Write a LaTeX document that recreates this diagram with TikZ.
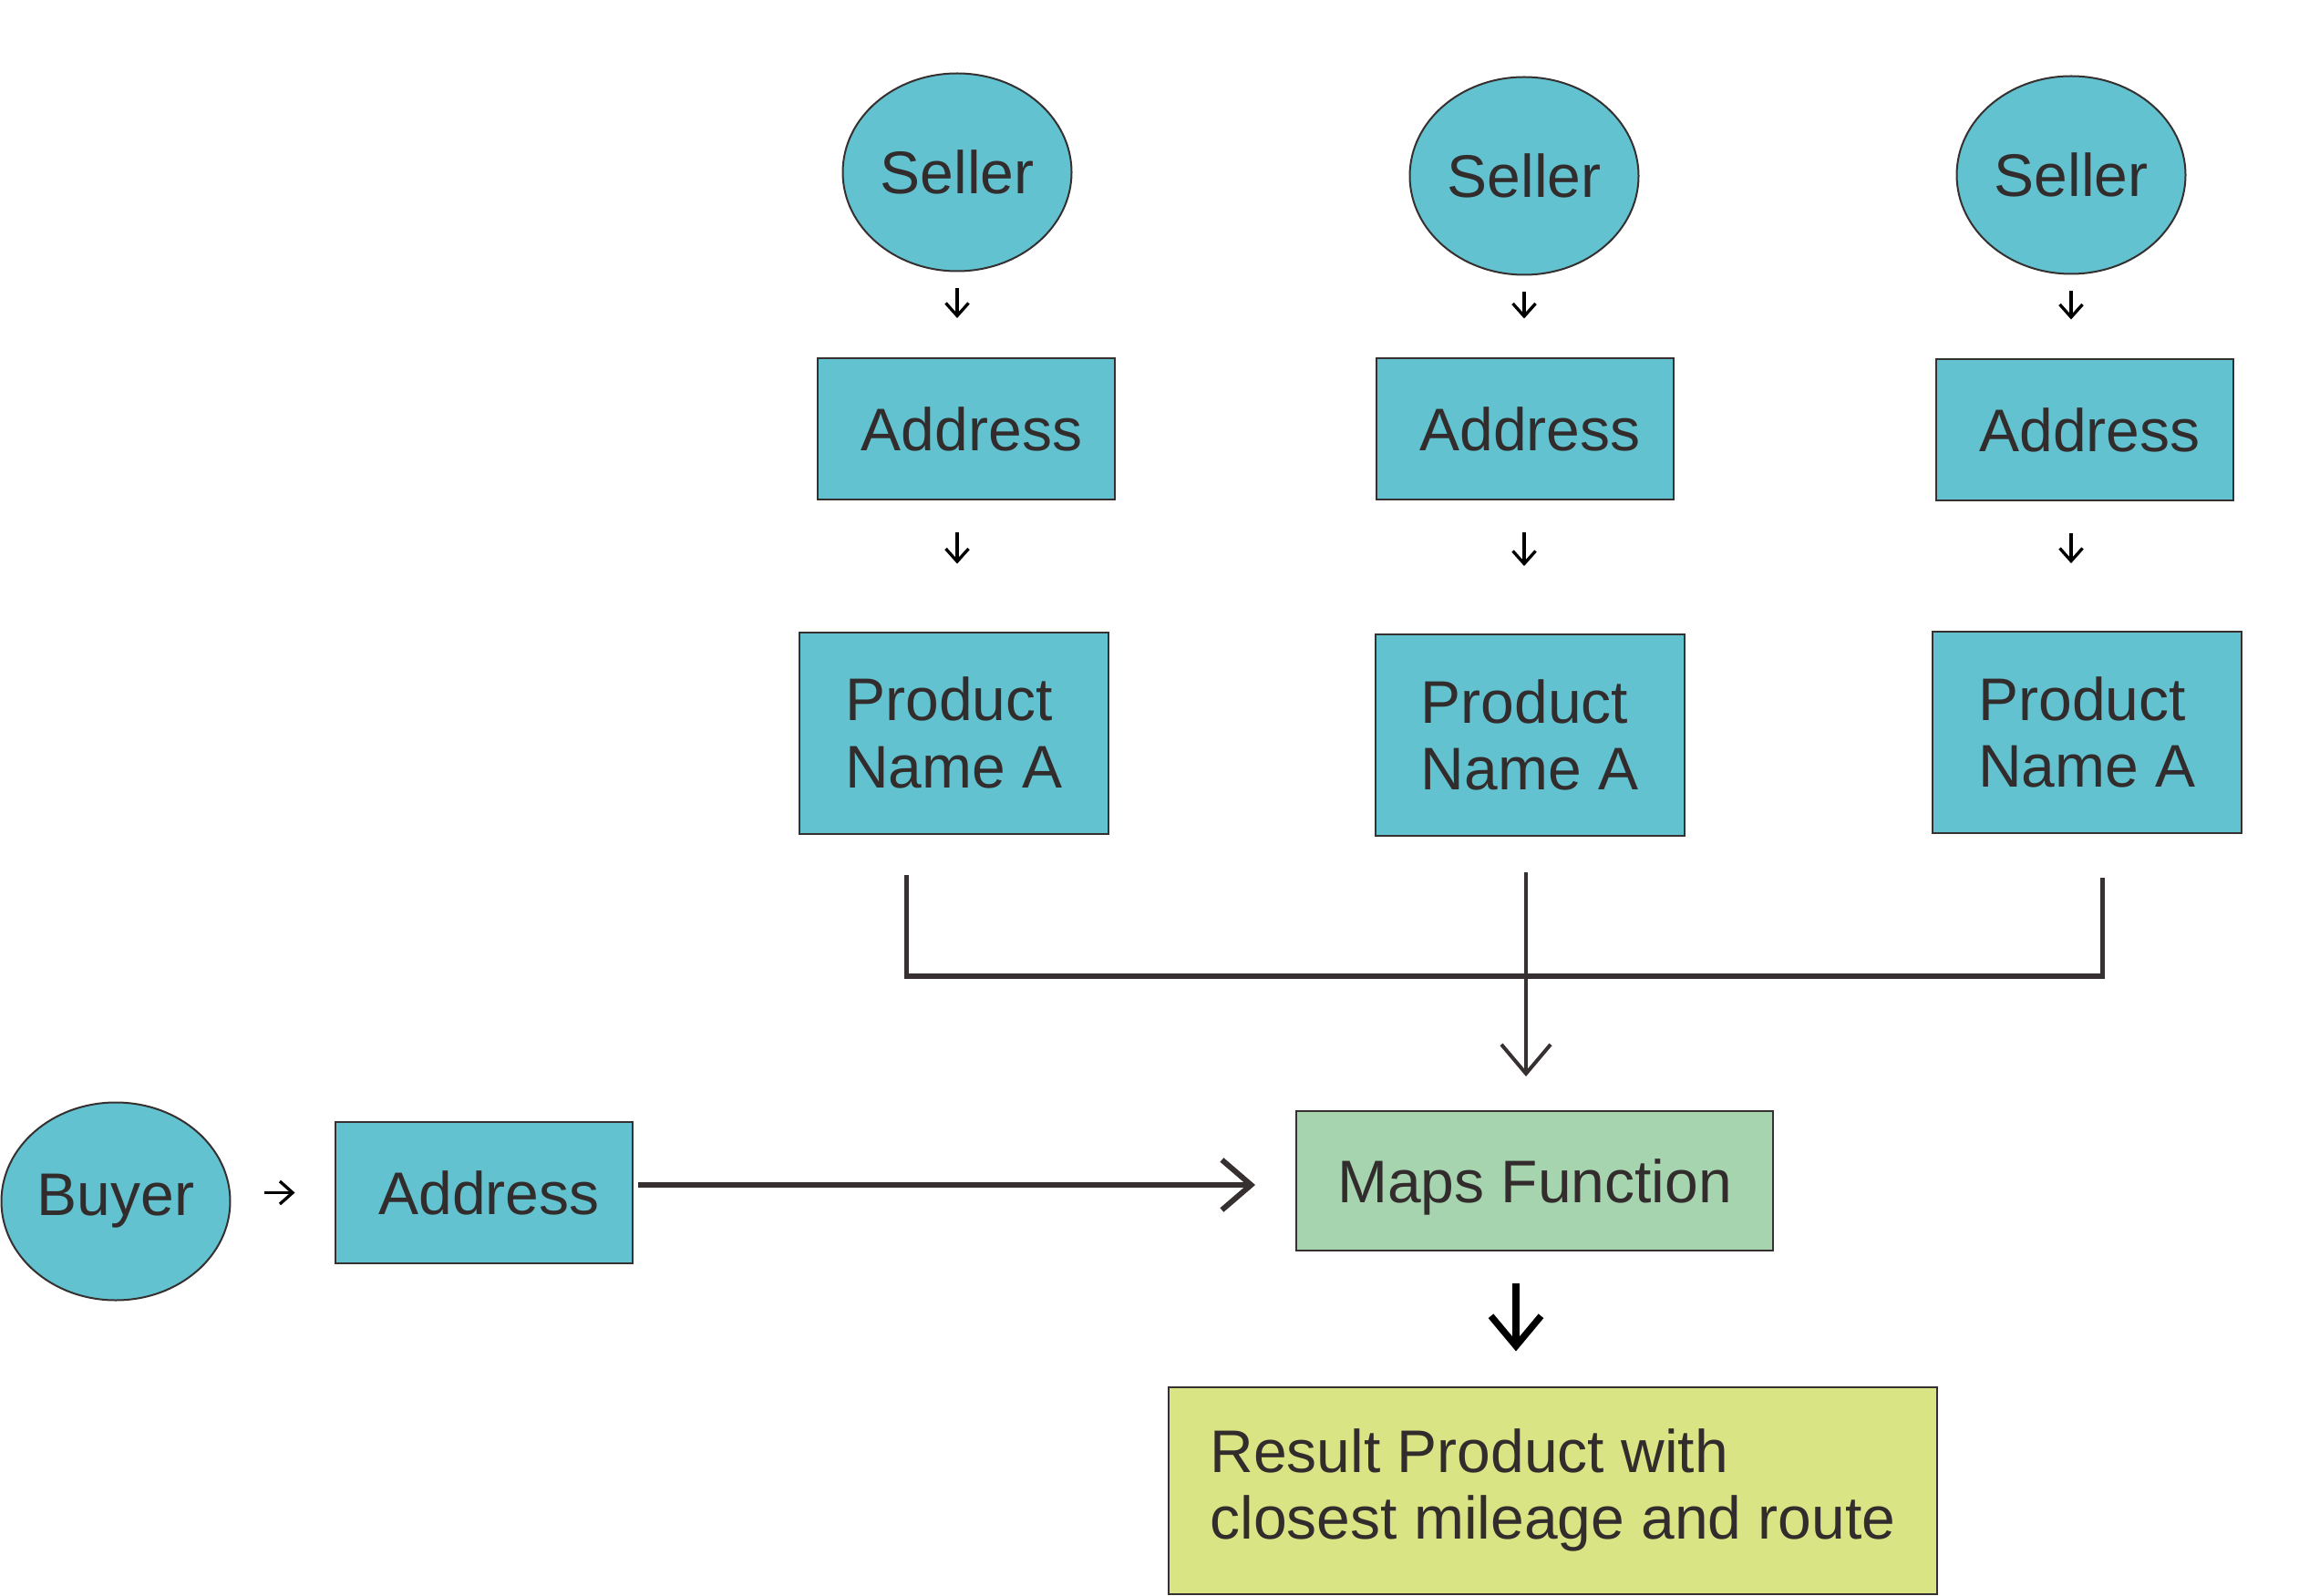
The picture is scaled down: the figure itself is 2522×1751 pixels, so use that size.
\documentclass[tikz,border=0pt]{standalone}
\usepackage{fontspec}
\setmainfont{Liberation Sans}
\usetikzlibrary{shapes.geometric,arrows.meta}
\definecolor{cteal}{HTML}{62C2CF}
\definecolor{cgreen}{HTML}{A6D4AF}
\definecolor{cyellow}{HTML}{D9E584}
\definecolor{ctext}{HTML}{322C2C}
\definecolor{cline}{HTML}{363030}
\begin{document}
\begin{tikzpicture}[x=0.3pt,y=-0.3pt,
  base/.style={draw=cline, line width=0.6pt, text=ctext, font=\fontsize{19.8}{22}\selectfont, inner sep=0pt},
  seller/.style={base, ellipse, fill=cteal, minimum width=75.3pt, minimum height=65.1pt},
  addr/.style={base, rectangle, fill=cteal, minimum width=97.8pt, minimum height=46.5pt},
  prod/.style={base, rectangle, fill=cteal, minimum width=101.7pt, minimum height=66.3pt, align=left},
  mapsbox/.style={base, rectangle, fill=cgreen, minimum width=156.9pt, minimum height=45.9pt, text depth=0pt},
  resbox/.style={base, rectangle, fill=cyellow, minimum width=252.9pt, minimum height=68.1pt, align=left},
  smallarr/.style={draw=black, line width=1.0pt, -{Straight Barb[length=4.2pt,width=7.5pt]}},
  midarr/.style={draw=cline, line width=1.2pt, -{Straight Barb[length=9.6pt,width=16.2pt]}},
  longarr/.style={draw=cline, line width=1.8pt, -{Straight Barb[length=9.6pt,width=16.5pt]}},
  bigarr/.style={draw=black, line width=2.2pt, -{Straight Barb[length=9.9pt,width=16.5pt]}},
  vbar/.style={draw=cline, line width=1.5pt},
  hbar/.style={draw=cline, line width=1.8pt}
]
\useasboundingbox (0,0) rectangle (2522,1751);

% sellers
\node[seller] (s1) at (1050,189) {Seller};
\node[seller] (s2) at (1672,193) {Seller};
\node[seller] (s3) at (2272,192) {Seller};

% addresses
\node[addr] (a1) at (1060,470.5) {\hspace*{3.6pt}Address};
\node[addr] (a2) at (1672.5,471) {\hspace*{3.6pt}Address};
\node[addr] (a3) at (2286.5,472) {\hspace*{3.6pt}Address};

% products
\node[prod] (p1) at (1046.5,804) {Product\\Name A};
\node[prod] (p2) at (1678,806.5) {Product\\Name A};
\node[prod] (p3) at (2289.5,803.5) {Product\\Name A};

% buyer
\node[seller] (buyer) at (127,1318) {Buyer};
\node[addr] (baddr) at (530.5,1308.5) {\hspace*{3.6pt}Address};

% maps and result
\node[mapsbox] (maps) at (1683.5,1295.5) {Maps Function};
\node[resbox] (res) at (1703.5,1635) {Result Product with\\closest mileage and route};

% small arrows
\foreach \i in {1,2,3}{
  \draw[smallarr, shorten <=5.4pt, shorten >=12.9pt] (s\i.south) -- (s\i.south |- a\i.north);
  \draw[smallarr, shorten <=10.5pt, shorten >=22.2pt] (s\i.south |- a\i.south) -- (s\i.south |- p\i.north);
}
\draw[smallarr, shorten <=10.8pt, shorten >=12.9pt] (buyer.east |- baddr.west) -- (baddr.west);

% bracket
\coordinate (bl) at (994,960);
\coordinate (blb) at (994,1074);
\coordinate (br) at (2306,963);
\coordinate (brb) at (2306,1074);
\coordinate (hl) at (991.5,1071);
\coordinate (hr) at (2307,1071);
\draw[vbar] (bl) -- (blb);
\draw[vbar] (br) -- (brb);
\draw[hbar] (hl) -- (hr);

% middle arrow into maps
\coordinate (mtop) at (1674,957);
\draw[midarr, shorten >=11.1pt] (mtop) -- (mtop |- maps.north);

% long arrow from buyer address
\coordinate (la) at (700,1300);
\draw[longarr, shorten >=13.2pt] (la) -- (la -| maps.west);

% big arrow to result
\coordinate (bx) at (1663,0);
\draw[bigarr, shorten <=10.5pt, shorten >=11.4pt] (maps.south -| bx) -- (res.north -| bx);
\end{tikzpicture}
\end{document}
